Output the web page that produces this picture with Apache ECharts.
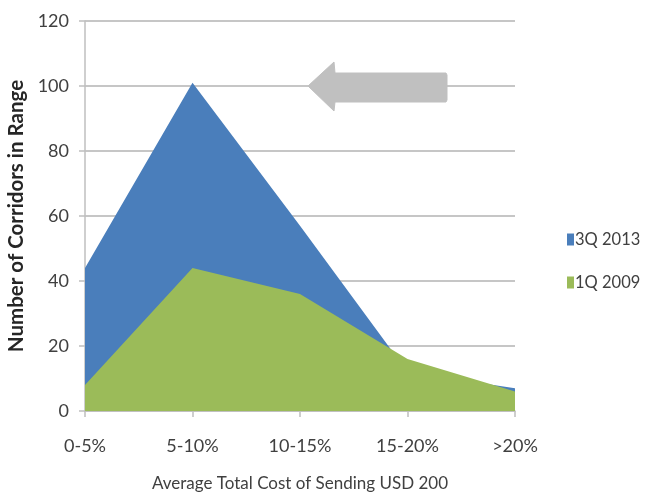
<!DOCTYPE html>
<html>
<head>
<meta charset="utf-8">
<script src="https://cdn.jsdelivr.net/npm/echarts@6/dist/echarts.min.js"></script>
<style>
  html, body { margin: 0; padding: 0; background: #ffffff; }
  #chart { width: 662px; height: 493px; }
</style>
</head>
<body>
<div id="chart"></div>
<script>
// Cost bands of sending USD 200
const categories = ['0-5%', '5-10%', '10-15%', '15-20%', '>20%'];
// Number of corridors in each band
const series3Q2013 = [44, 101, 57, 12, 7];
const series1Q2009 = [8, 44, 36, 16, 6];
const seriesNames = ['3Q 2013', '1Q 2009'];
const yTicks = { min: 0, max: 120, interval: 20 };

const FONT = 'Lato, "Liberation Sans", sans-serif';
const chart = echarts.init(document.getElementById('chart'), null, { renderer: 'canvas' });

chart.setOption({
  animation: false,
  backgroundColor: '#ffffff',
  grid: { left: 85, right: 147, top: 21, bottom: 82, containLabel: false, outerBoundsMode: 'none' },
  legend: {
    orient: 'vertical',
    left: 562,
    top: 226,
    itemGap: 26,
    itemWidth: 7,
    itemHeight: 12,
    icon: 'rect',
    textStyle: { fontFamily: FONT, fontSize: 16.5, color: '#404040', padding: [0, 0, 0, -4] },
    data: seriesNames
  },
  xAxis: {
    type: 'category',
    data: categories,
    boundaryGap: false,
    name: 'Average Total Cost of Sending USD 200',
    nameLocation: 'middle',
    nameGap: 64,
    nameTextStyle: { fontFamily: FONT, fontSize: 17, color: '#404040' },
    axisLine: { show: true, lineStyle: { color: '#bfbfbf', width: 1.5 } },
    axisTick: { show: true, alignWithLabel: true, length: 6, lineStyle: { color: '#bfbfbf', width: 1.5 } },
    axisLabel: { fontFamily: FONT, fontSize: 18, color: '#404040', margin: 26 },
    splitLine: { show: false }
  },
  yAxis: {
    type: 'value',
    min: yTicks.min,
    max: yTicks.max,
    interval: yTicks.interval,
    name: 'Number of Corridors in Range',
    nameLocation: 'middle',
    nameGap: 51,
    nameTextStyle: { fontFamily: FONT, fontSize: 20.5, fontWeight: 'bold', color: '#262626' },
    axisLine: { show: true, lineStyle: { color: '#bfbfbf', width: 1.5 } },
    axisTick: { show: true, length: 6, lineStyle: { color: '#bfbfbf', width: 1.5 } },
    axisLabel: { fontFamily: FONT, fontSize: 18, color: '#404040', margin: 16 },
    splitLine: { show: true, lineStyle: { color: '#c6c6c6', width: 2 } }
  },
  series: [
    {
      name: seriesNames[0],
      type: 'line',
      data: series3Q2013,
      symbol: 'none',
      lineStyle: { width: 0 },
      itemStyle: { color: '#4a7ebb' },
      areaStyle: { color: '#4a7ebb', opacity: 1 },
      z: 2
    },
    {
      name: seriesNames[1],
      type: 'line',
      data: series1Q2009,
      symbol: 'none',
      lineStyle: { width: 0 },
      itemStyle: { color: '#9bbb59' },
      areaStyle: { color: '#9bbb59', opacity: 1 },
      z: 3
    }
  ],
  graphic: [
    {
      // grey left-pointing arrow in the upper plot area
      type: 'polygon',
      z: 10,
      shape: {
        points: [
          [308, 86], [334, 62], [335, 73], [446, 73],
          [447, 75], [447, 100], [446, 102], [335, 102], [334, 111]
        ]
      },
      style: { fill: '#c0c0c0', stroke: '#c0c0c0', lineWidth: 1, lineJoin: 'round' }
    }
  ]
});
</script>
</body>
</html>
